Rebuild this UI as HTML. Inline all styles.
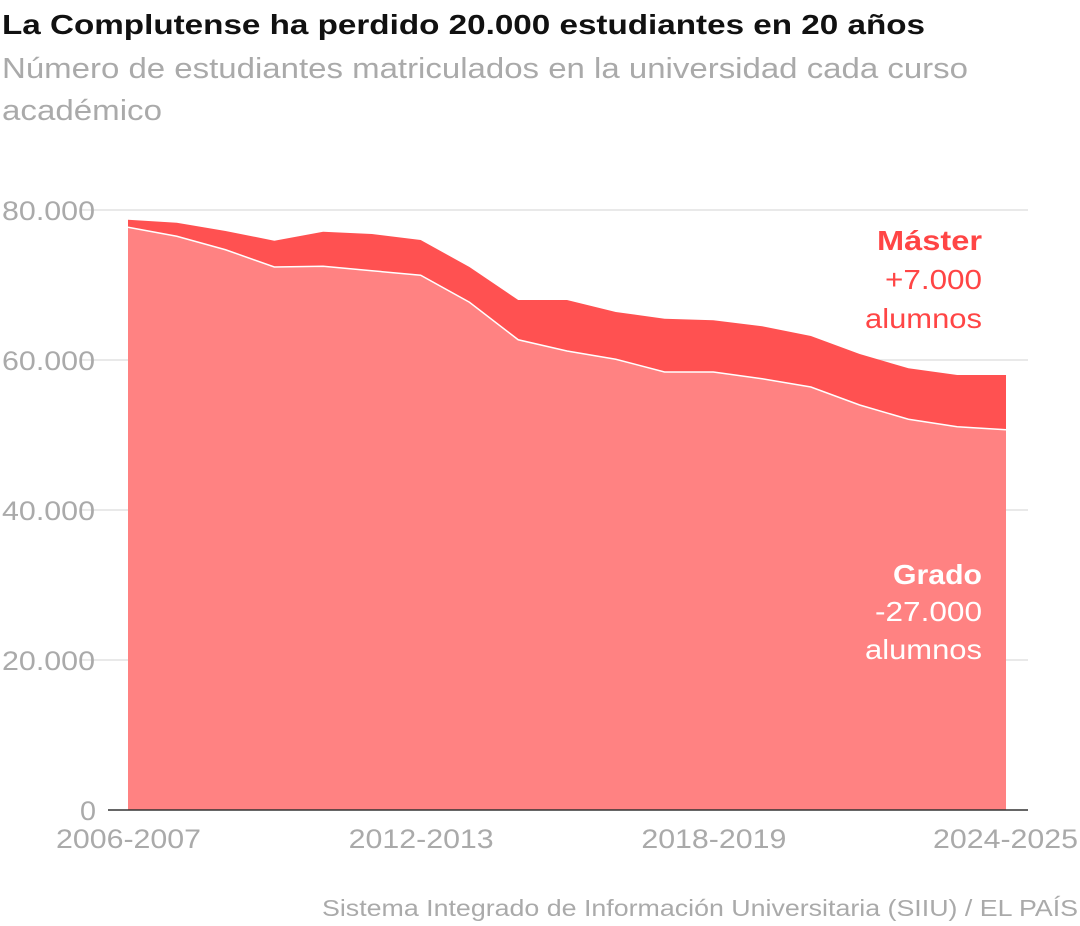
<!DOCTYPE html>
<html><head><meta charset="utf-8"><style>
body{margin:0;background:#fff;width:1080px;height:926px;overflow:hidden;font-family:"Liberation Sans",sans-serif}
svg{position:absolute;left:0;top:0}
</style></head><body>
<svg width="1080" height="926">
<text x="2" y="34" font-size="28" font-weight="bold" fill="#111" textLength="923" lengthAdjust="spacingAndGlyphs">La Complutense ha perdido 20.000 estudiantes en 20 años</text>
<text x="2" y="78" font-size="29" fill="#aaa" textLength="966" lengthAdjust="spacingAndGlyphs">Número de estudiantes matriculados en la universidad cada curso</text>
<text x="2" y="120" font-size="29" fill="#aaa" textLength="160" lengthAdjust="spacingAndGlyphs">académico</text>
<g id="grid"></g><g id="areas"></g><g id="labels"></g>
<text x="322" y="916" font-size="23" fill="#aaa" textLength="756" lengthAdjust="spacingAndGlyphs">Sistema Integrado de Información Universitaria (SIIU) / EL PAÍS</text>
</svg>
<script>
const years=["2006-2007","2007-2008","2008-2009","2009-2010","2010-2011","2011-2012","2012-2013","2013-2014","2014-2015","2015-2016","2016-2017","2017-2018","2018-2019","2019-2020","2020-2021","2021-2022","2022-2023","2023-2024","2024-2025"];
const grado=[77.7,76.5,74.7,72.4,72.5,71.9,71.3,67.7,62.7,61.2,60.1,58.4,58.4,57.5,56.4,54.0,52.1,51.1,50.7].map(v=>v*1000);
const master=[1.0,1.8,2.5,3.5,4.6,4.9,4.7,4.7,5.3,6.8,6.3,7.1,6.9,7.0,6.8,6.8,6.8,6.9,7.3].map(v=>v*1000);
const yTicks=[0,20000,40000,60000,80000];
const xTickIdx=[0,6,12,18];
const NS="http://www.w3.org/2000/svg";
const x=i=>128+i*(1006-128)/(years.length-1);
const y=v=>810-v*600/80000;
function mk(t,a,p){const e=document.createElementNS(NS,t);for(const k in a)e.setAttribute(k,a[k]);p.appendChild(e);return e;}
const grid=document.getElementById('grid'),areas=document.getElementById('areas'),labels=document.getElementById('labels');
yTicks.forEach(t=>{
 if(t>0){const l=mk('line',{x1:82,x2:1028,y1:y(t),y2:y(t),stroke:'#e2e2e2','stroke-width':1.5},grid);
 
 }
 const tx=mk('text',{x:2,y:y(t)+10,'font-size':27,fill:'#aaa',textLength:93,lengthAdjust:'spacingAndGlyphs'},grid);tx.textContent=t===0?'0':t.toLocaleString('de-DE');
 if(t===0){tx.setAttribute('x',80);tx.setAttribute('textLength',16);}
 
 
});
const tot=grado.map((g,i)=>g+master[i]);
let topPts=tot.map((v,i)=>x(i)+','+y(v)).join(' ');
let gPts=grado.map((v,i)=>x(i)+','+y(v));
const m=mk('polygon',{points:topPts+' '+gPts.slice().reverse().join(' '),fill:'#ff5151'},areas);


const g=mk('polygon',{points:gPts.join(' ')+' '+x(years.length-1)+','+y(0)+' '+x(0)+','+y(0),fill:'#ff8282'},areas);


const gl=mk('polyline',{points:gPts.join(' '),fill:'none',stroke:'#fff','stroke-width':1.5},areas);


const ax=mk('line',{x1:108,x2:1028,y1:810,y2:810,stroke:'#333','stroke-width':1.5},areas);


xTickIdx.forEach(i=>{
 const tx=mk('text',{x:x(i)-72,y:848,'font-size':27,fill:'#aaa',textLength:145,lengthAdjust:'spacingAndGlyphs'},labels);tx.textContent=years[i];
 if(i===years.length-1)tx.setAttribute('x',933);
 
 
});
function lab(t,yy,col,bold,w,name){const e=mk('text',{x:982-w,y:yy,'font-size':28,fill:col,'font-weight':bold?'bold':'normal',textLength:w,lengthAdjust:'spacingAndGlyphs'},labels);e.textContent=t;
 
 }
lab('Máster',250,'#ff4545',true,105,'master-label');lab('+7.000',289,'#ff4545',false,97,'master-change');lab('alumnos',328,'#ff4545',false,117,'master-unit');
lab('Grado',584,'#fff',true,89,'grado-label');lab('-27.000',621,'#fff',false,107,'grado-change');lab('alumnos',659,'#fff',false,117,'grado-unit');
</script>
</body></html>
